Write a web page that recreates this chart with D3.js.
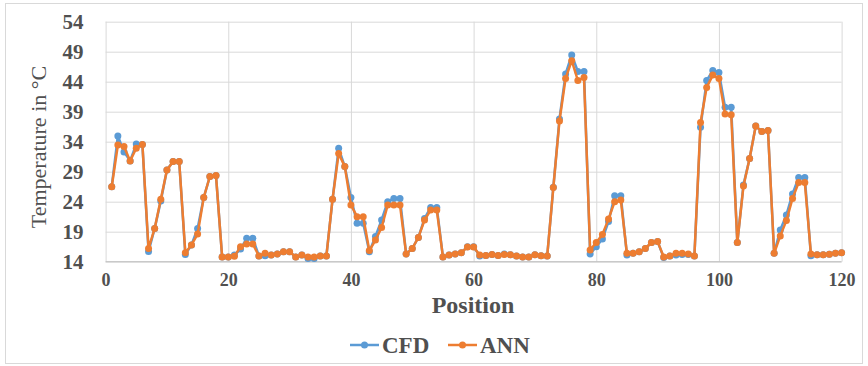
<!DOCTYPE html>
<html>
<head>
<meta charset="utf-8">
<script src="https://cdn.jsdelivr.net/npm/d3@7"></script>
<style>
  body { margin: 0; background: #fff; }
  svg text { font-family: 'Liberation Serif', 'Times New Roman', serif; fill: #505050; }
</style>
</head>
<body>
<svg id="chart" width="868" height="366"></svg>
<script>
// values, positions 1..120
const cfd = [
  26.5, 34.95, 32.3, 30.8, 33.6, 33.55, 15.7, 19.55, 24.1, 29.3,
  30.7, 30.7, 15.2, 16.8, 19.55, 24.7, 28.2, 28.35, 14.8, 14.8,
  15.1, 16.1, 17.9, 17.9, 14.95, 15.0, 15.1, 15.3, 15.65, 15.65,
  14.8, 15.1, 14.55, 14.55, 14.95, 14.95, 24.4, 32.9, 29.85, 24.7,
  20.4, 20.4, 15.65, 18.2, 20.95, 24.0, 24.55, 24.55, 15.3, 16.2,
  18.05, 21.2, 23.05, 23.05, 14.8, 15.1, 15.3, 15.5, 16.5, 16.5,
  14.95, 15.05, 15.2, 15.05, 15.3, 15.15, 14.95, 14.8, 14.8, 15.15,
  15.0, 14.95, 26.4, 37.8, 45.3, 48.45, 45.7, 45.7, 15.3, 16.5,
  17.8, 20.7, 25.0, 25.0, 15.1, 15.4, 15.65, 16.2, 17.2, 17.35,
  14.7, 14.95, 15.1, 15.2, 15.2, 14.95, 36.4, 44.2, 45.85, 45.55,
  39.75, 39.75, 17.2, 26.8, 31.2, 36.6, 35.7, 35.85, 15.4, 19.3,
  21.8, 25.3, 28.05, 28.05, 15.0, 15.15, 15.15, 15.25, 15.4, 15.5
]
const ann = [
  26.5, 33.45, 33.2, 30.8, 32.9, 33.55, 16.2, 19.55, 24.4, 29.3,
  30.7, 30.7, 15.5, 16.8, 18.6, 24.7, 28.2, 28.35, 14.8, 14.8,
  14.9, 16.5, 16.95, 16.95, 14.95, 15.4, 15.1, 15.3, 15.65, 15.65,
  14.8, 15.1, 14.8, 14.8, 14.95, 14.95, 24.4, 32.05, 29.85, 23.45,
  21.5, 21.5, 15.85, 17.6, 19.7, 23.45, 23.45, 23.45, 15.3, 16.2,
  18.05, 20.95, 22.6, 22.6, 14.8, 15.1, 15.3, 15.5, 16.45, 16.45,
  15.1, 15.05, 15.2, 15.05, 15.2, 15.15, 14.95, 14.8, 14.8, 15.15,
  15.0, 14.95, 26.35, 37.45, 44.55, 47.5, 44.2, 44.7, 15.95, 17.2,
  18.55, 21.1, 24.0, 24.3, 15.4, 15.4, 15.65, 16.2, 17.2, 17.35,
  14.8, 14.95, 15.4, 15.4, 15.3, 14.95, 37.2, 43.05, 45.1, 44.55,
  38.6, 38.5, 17.2, 26.6, 31.2, 36.6, 35.7, 35.85, 15.4, 18.3,
  20.85, 24.55, 27.2, 27.2, 15.3, 15.15, 15.15, 15.25, 15.4, 15.5
]
const xTicks = [0, 20, 40, 60, 80, 100, 120]
const yTicks = [14, 19, 24, 29, 34, 39, 44, 49, 54]
const seriesNames = ['CFD', 'ANN']
const colors = ['#5b9bd5', '#ed7d31']

const margin = {top: 21.7, right: 26.4, bottom: 104.3, left: 105.6}
const W = 868, H = 366
const width = W - margin.left - margin.right
const height = H - margin.top - margin.bottom

const svg = d3.select('#chart')

// outer chart border
svg.append('rect')
  .attr('x', 5.5).attr('y', 3.5)
  .attr('width', W - 11).attr('height', H - 6)
  .attr('fill', 'none').attr('stroke', '#d9d9d9')

const g = svg.append('g')
  .attr('transform', 'translate(' + margin.left + ',' + margin.top + ')')

const x = d3.scaleLinear().domain([0, 120]).range([0, width])
const y = d3.scaleLinear().domain([14, 54]).range([height, 0])

// gridlines
g.append('g')
  .call(d3.axisLeft(y).tickValues(yTicks).tickSize(-width).tickFormat(''))
  .call(a => a.select('.domain').remove())
  .selectAll('line').attr('stroke', '#d9d9d9')

g.append('g')
  .attr('transform', 'translate(0,' + height + ')')
  .call(d3.axisBottom(x).tickValues(xTicks).tickSize(-height).tickFormat(''))
  .call(a => a.select('.domain').remove())
  .selectAll('line').attr('stroke', '#d9d9d9')

// axis line
g.append('line')
  .attr('x1', 0).attr('x2', width)
  .attr('y1', height).attr('y2', height)
  .attr('stroke', '#bfbfbf')

// tick labels
const yAxis = g.append('g')
  .call(d3.axisLeft(y).tickValues(yTicks).tickSize(0).tickPadding(22))
yAxis.select('.domain').remove()
yAxis.selectAll('text')
  .attr('font-size', 21).attr('font-weight', 'bold')
  .attr('font-family', "'Liberation Serif', serif").attr('fill', '#505050')

const xAxis = g.append('g')
  .attr('transform', 'translate(0,' + height + ')')
  .call(d3.axisBottom(x).tickValues(xTicks).tickSize(0).tickPadding(12))
xAxis.select('.domain').remove()
xAxis.selectAll('text')
  .attr('font-size', 18).attr('font-weight', 'bold')
  .attr('font-family', "'Liberation Serif', serif").attr('fill', '#505050')

// axis titles
svg.append('text')
  .attr('transform', 'translate(46,147) rotate(-90)')
  .attr('text-anchor', 'middle')
  .attr('font-size', 22)
  .text('Temperature in °C')

svg.append('text')
  .attr('x', 473).attr('y', 313)
  .attr('text-anchor', 'middle')
  .attr('font-size', 24).attr('font-weight', 'bold')
  .text('Position')

// series
const line = d3.line()
  .x((d, i) => x(i + 1))
  .y(d => y(d))

const allSeries = [cfd, ann]
allSeries.forEach((data, k) => {
  g.append('path')
    .datum(data)
    .attr('fill', 'none')
    .attr('stroke', colors[k])
    .attr('stroke-width', 2.5)
    .attr('stroke-linejoin', 'round')
    .attr('d', line)

  g.append('g')
    .selectAll('circle')
    .data(data)
    .enter()
    .append('circle')
    .attr('cx', (d, i) => x(i + 1))
    .attr('cy', d => y(d))
    .attr('r', 3.5)
    .attr('fill', colors[k])
})

// legend
const legendX = [350, 448]
seriesNames.forEach((name, k) => {
  const lg = svg.append('g').attr('transform', 'translate(' + legendX[k] + ',345)')
  lg.append('line')
    .attr('x1', 0).attr('x2', 29)
    .attr('stroke', colors[k]).attr('stroke-width', 2.5)
  lg.append('circle')
    .attr('cx', 14.5).attr('r', 3.5).attr('fill', colors[k])
  lg.append('text')
    .attr('x', 32).attr('y', 8)
    .attr('font-size', 23).attr('font-weight', 'bold')
    .text(name)
})
</script>
</body>
</html>
